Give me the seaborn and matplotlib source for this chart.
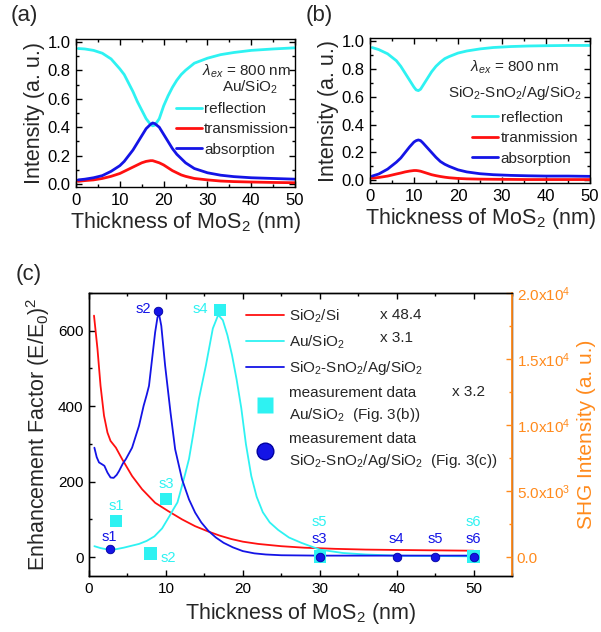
import numpy as np
import pandas as pd
import seaborn as sns
import matplotlib.pyplot as plt
from matplotlib import ticker
from matplotlib.lines import Line2D

sns.set_theme(style="ticks")
plt.rcParams['font.family'] = ['Liberation Sans', 'DejaVu Sans']
plt.rcParams['mathtext.fontset'] = 'custom'
plt.rcParams['mathtext.rm'] = 'Liberation Sans'
plt.rcParams['mathtext.it'] = 'Liberation Sans:italic'
plt.rcParams['mathtext.bf'] = 'Liberation Sans:bold'
plt.rcParams['axes.linewidth'] = 1.0
plt.rcParams['axes.edgecolor'] = 'black'

CYAN = '#2ef2f2'
RED = '#ff1010'
BLUE = '#1414e6'
ORANGE = '#ff8a1c'

# ---- panel (a): Au/SiO2 ----
xa = [0.5, 2, 4, 6, 8, 10, 11, 12, 13, 14, 15, 16, 17, 17.5, 18, 19, 20, 21, 22, 23, 24, 25,
      27, 30, 33, 36, 40, 45, 50]
refl_a = [0.953, 0.95, 0.94, 0.92, 0.88, 0.81, 0.77, 0.71, 0.65, 0.58, 0.52, 0.46, 0.42, 0.41,
          0.415, 0.46, 0.55, 0.62, 0.68, 0.73, 0.77, 0.80, 0.85, 0.885, 0.91, 0.925, 0.94, 0.95, 0.958]
trans_a = [0.02, 0.025, 0.03, 0.04, 0.055, 0.075, 0.09, 0.105, 0.12, 0.135, 0.15, 0.16, 0.165,
           0.165, 0.16, 0.15, 0.135, 0.115, 0.095, 0.08, 0.065, 0.055, 0.04, 0.03, 0.022, 0.018,
           0.015, 0.012, 0.01]
abs_a = [0.03, 0.035, 0.045, 0.06, 0.09, 0.13, 0.16, 0.2, 0.24, 0.29, 0.34, 0.39, 0.42, 0.43,
         0.425, 0.4, 0.35, 0.3, 0.25, 0.21, 0.18, 0.15, 0.11, 0.08, 0.063, 0.053, 0.045, 0.04, 0.035]

# ---- panel (b): SiO2-SnO2/Ag/SiO2 ----
xb = [0.5, 2, 4, 6, 7, 8, 9, 10, 10.5, 11, 11.5, 12, 13, 14, 15, 16, 17, 18, 20, 22, 25, 28,
      32, 36, 40, 45, 50]
refl_b = [0.955, 0.94, 0.91, 0.86, 0.82, 0.77, 0.72, 0.67, 0.65, 0.645, 0.655, 0.68, 0.73, 0.78,
          0.82, 0.85, 0.875, 0.89, 0.915, 0.93, 0.945, 0.955, 0.962, 0.966, 0.968, 0.97, 0.97]
trans_b = [0.015, 0.02, 0.03, 0.045, 0.052, 0.06, 0.066, 0.07, 0.07, 0.068, 0.065, 0.06, 0.05,
           0.04, 0.033, 0.027, 0.022, 0.018, 0.013, 0.01, 0.008, 0.007, 0.006, 0.005, 0.005,
           0.005, 0.005]
abs_b = [0.03, 0.045, 0.08, 0.13, 0.16, 0.2, 0.24, 0.275, 0.285, 0.29, 0.285, 0.27, 0.235, 0.2,
         0.165, 0.135, 0.115, 0.1, 0.075, 0.06, 0.047, 0.04, 0.035, 0.032, 0.03, 0.03, 0.028]

# ---- panel (c): enhancement factor ----
x_si = [0.65, 1.1, 1.5, 1.95, 2.4, 2.8, 3.5, 4.3, 5.6, 6.9, 8.6, 10.3, 12.1, 13.8, 15.5, 17,
        18.5, 20, 22, 25, 28, 32, 36, 40, 45, 50]
ef_si = [640, 552, 454, 375, 330, 308, 290, 260, 215, 180, 144, 122, 100, 82, 68, 57, 48, 41,
         35, 29, 25, 22, 20, 19, 18, 17]

x_au = [0.7, 1.5, 2.5, 3.5, 4.5, 5.5, 6.5, 7.5, 8.5, 9.5, 10.5, 11.0, 11.5, 12.0, 12.5, 13.0,
        13.5, 14.3, 15.2, 16.1, 16.8, 17.4, 18.0, 18.6, 19.2, 19.8, 20.4, 21.1, 21.8, 22.6, 23.5,
        24.6, 26, 27.6, 30, 33, 36, 40, 45, 50]
ef_au = [29, 24, 20, 21, 25, 30, 35, 43, 55, 76, 110, 128, 145, 182, 220, 260, 320, 420, 508,
         606, 642, 628, 588, 535, 470, 395, 300, 215, 160, 119, 92, 72, 52, 38, 20, 11, 7, 4, 3, 2]

x_ag = [0.7, 1.0, 1.3, 1.7, 2.0, 2.4, 2.8, 3.2, 3.6, 3.9, 4.4, 4.8, 5.6, 6.5, 7.1, 7.5, 7.8,
        8.2, 8.6, 8.9, 9.1, 9.4, 9.9, 10.6, 11.2, 12.1, 13.0, 13.8, 14.6, 15.5, 16.5, 17.5, 18.7,
        20, 21.5, 23, 25, 30, 35, 40, 45, 50]
ef_ag = [290, 265, 251, 246, 242, 224, 211, 210, 218, 228, 248, 260, 290, 348, 401, 430, 454,
         525, 596, 635, 645, 613, 507, 383, 286, 206, 153, 118, 92, 70, 52, 38, 26, 16, 10, 7, 5,
         4, 4, 4, 4, 4]

# measurement data (SHG intensity, right axis)
x_meas_au = [3.5, 8.0, 10.0, 17.0, 30.0, 50.0]
shg_meas_au = [2750, 260, 4400, 18700, 40, 40]
lab_meas_au = ['s1', 's2', 's3', 's4', 's5', 's6']

x_meas_ag = [2.7, 9.0, 30.0, 40.0, 45.0, 50.0]
shg_meas_ag = [590, 18650, 20, 20, 20, 20]
lab_meas_ag = ['s1', 's2', 's3', 's4', 's5', 's6']

fig = plt.figure(figsize=(6.01, 6.32), dpi=100)
ax_a = fig.add_axes([0.1265, 0.7041, 0.3645, 0.2342])
ax_b = fig.add_axes([0.6156, 0.7104, 0.366, 0.2287])
ax_c = fig.add_axes([0.1481, 0.0886, 0.7038, 0.4478])


def style_ticks(ax, size):
    ax.tick_params(which='both', direction='in', top=True, right=True, labelsize=size,
                   colors='black', pad=4)
    ax.tick_params(which='major', length=4, width=1)
    ax.tick_params(which='minor', length=2.5, width=1)


def rta_panel(ax, x, refl, trans, absorp, trans_name):
    sns.lineplot(x=x, y=refl, ax=ax, color=CYAN, lw=2.0, label='reflection')
    sns.lineplot(x=x, y=trans, ax=ax, color=RED, lw=2.0, label=trans_name)
    sns.lineplot(x=x, y=absorp, ax=ax, color=BLUE, lw=2.0, label='absorption')
    ax.set_xlim(0, 50)
    ax.set_ylim(-0.02, 1.02)
    ax.xaxis.set_major_locator(ticker.MultipleLocator(10))
    ax.xaxis.set_minor_locator(ticker.MultipleLocator(5))
    ax.yaxis.set_major_locator(ticker.MultipleLocator(0.2))
    ax.yaxis.set_minor_locator(ticker.MultipleLocator(0.1))
    ax.yaxis.set_major_formatter(ticker.FormatStrFormatter('%.1f'))
    style_ticks(ax, 12)
    ax.set_xlabel('Thickness of MoS$_2$ (nm)', fontsize=15.5, labelpad=2)
    ax.set_ylabel('Intensity (a. u.)', fontsize=15.5, labelpad=2)


rta_panel(ax_a, xa, refl_a, trans_a, abs_a, 'transmission')
ax_a.legend(loc='upper left', bbox_to_anchor=(0.455, 0.575), frameon=False, fontsize=11,
            handlelength=1.7, handletextpad=0.15, labelspacing=0.42, borderpad=0,
            borderaxespad=0)
ax_a.text(0.776, 0.784, r'$\lambda_{ex}$ = 800 nm', transform=ax_a.transAxes, fontsize=11,
          ha='center', va='center')
ax_a.text(0.795, 0.672, 'Au/SiO$_2$', transform=ax_a.transAxes, fontsize=11,
          ha='center', va='center')

rta_panel(ax_b, xb, refl_b, trans_b, abs_b, 'tranmission')
ax_b.legend(loc='upper left', bbox_to_anchor=(0.465, 0.50), frameon=False, fontsize=11,
            handlelength=1.7, handletextpad=0.15, labelspacing=0.42, borderpad=0,
            borderaxespad=0)
ax_b.text(0.659, 0.80, r'$\lambda_{ex}$ = 800 nm', transform=ax_b.transAxes, fontsize=11,
          ha='center', va='center')
ax_b.text(0.659, 0.625, 'SiO$_2$-SnO$_2$/Ag/SiO$_2$', transform=ax_b.transAxes, fontsize=11,
          ha='center', va='center')

# ---- panel (c) ----
sns.lineplot(x=x_si, y=ef_si, ax=ax_c, color=RED, lw=1.3)
sns.lineplot(x=x_au, y=ef_au, ax=ax_c, color=CYAN, lw=1.3)
sns.lineplot(x=x_ag, y=ef_ag, ax=ax_c, color=BLUE, lw=1.3)
ax_c.set_xlim(0, 55)
ax_c.set_ylim(-50, 700)
ax_c.xaxis.set_major_locator(ticker.MultipleLocator(10))
ax_c.xaxis.set_minor_locator(ticker.MultipleLocator(5))
ax_c.yaxis.set_major_locator(ticker.MultipleLocator(200))
ax_c.yaxis.set_minor_locator(ticker.MultipleLocator(100))
style_ticks(ax_c, 11)
ax_c.tick_params(right=False, which='both')
ax_c.set_xlabel('Thickness of MoS$_2$ (nm)', fontsize=15.5, labelpad=4)
ax_c.set_ylabel('Enhancement Factor (E/E$_0$)$^2$', fontsize=15.5, labelpad=4)

ax2 = ax_c.twinx()
ax2.set_ylim(-50 * 20000 / 700, 20000)
sns.scatterplot(x=x_meas_au, y=shg_meas_au, ax=ax2, marker='s', s=80, color=CYAN,
                edgecolor='none', zorder=3)
sns.scatterplot(x=x_meas_ag, y=shg_meas_ag, ax=ax2, marker='o', s=38, color=BLUE,
                edgecolor='#0000a0', linewidth=0.6, zorder=4)
ax2.yaxis.set_major_locator(ticker.MultipleLocator(5000))
ax2.yaxis.set_minor_locator(ticker.MultipleLocator(2500))


def shg_fmt(v, pos):
    if abs(v) < 1e-9:
        return '0.0'
    e = int(np.floor(np.log10(abs(v))))
    return '%.1fx10$^{%d}$' % (v / 10 ** e, e)


ax2.yaxis.set_major_formatter(ticker.FuncFormatter(shg_fmt))
ax2.tick_params(axis='y', which='both', direction='in', colors=ORANGE, labelsize=11,
                labelcolor=ORANGE)
ax2.tick_params(axis='y', which='major', length=4, width=1)
ax2.tick_params(axis='y', which='minor', length=2.5, width=1)
ax2.spines['right'].set_color(ORANGE)
ax2.spines['right'].set_linewidth(1.3)
ax2.set_ylabel('SHG Intensity (a. u.)', fontsize=15, color=ORANGE, labelpad=5)

# sample labels
au_offsets = {'s1': (0, 11), 's2': (13, -3), 's3': (0, 11), 's4': (-14, 1), 's5': (0, 25),
              's6': (0, 25)}
for xv, yv, lab in zip(x_meas_au, shg_meas_au, lab_meas_au):
    ax2.annotate(lab, (xv, yv), xytext=au_offsets[lab], textcoords='offset points',
                 ha='center', va='center', fontsize=10.5, color=CYAN)
ag_offsets = {'s1': (0, 9), 's2': (-11, 1), 's3': (0, 13), 's4': (0, 13), 's5': (0, 13),
              's6': (0, 13)}
for xv, yv, lab in zip(x_meas_ag, shg_meas_ag, lab_meas_ag):
    ax2.annotate(lab, (xv, yv), xytext=ag_offsets[lab], textcoords='offset points',
                 ha='center', va='center', fontsize=10.5, color=BLUE)

handles = [
    Line2D([], [], color=RED, lw=1.3),
    Line2D([], [], color=CYAN, lw=1.3),
    Line2D([], [], color=BLUE, lw=1.3),
    Line2D([], [], ls='none', marker='s', markersize=11, color=CYAN, markeredgecolor='none'),
    Line2D([], [], ls='none', marker='o', markersize=12, color=BLUE,
           markeredgecolor='#0000a0'),
]
labels = ['SiO$_2$/Si', 'Au/SiO$_2$', 'SiO$_2$-SnO$_2$/Ag/SiO$_2$',
          'measurement data\nAu/SiO$_2$  (Fig. 3(b))',
          'measurement data\nSiO$_2$-SnO$_2$/Ag/SiO$_2$  (Fig. 3(c))']
leg = ax2.legend(handles, labels, loc='upper left', bbox_to_anchor=(0.37, 0.948),
                 frameon=False, fontsize=11, handlelength=2.5, handletextpad=0.35,
                 labelspacing=0.55, borderpad=0, borderaxespad=0)
for t in leg.get_texts():
    t.set_linespacing(1.45)
ax2.text(0.688, 0.922, 'x 48.4', transform=ax2.transAxes, fontsize=11, va='center')
ax2.text(0.688, 0.841, 'x 3.1', transform=ax2.transAxes, fontsize=11, va='center')
ax2.text(0.858, 0.650, 'x 3.2', transform=ax2.transAxes, fontsize=11, va='center')

fig.text(0.018, 0.975, '(a)', fontsize=16, va='center')
fig.text(0.508, 0.975, '(b)', fontsize=16, va='center')
fig.text(0.026, 0.565, '(c)', fontsize=16, va='center')

fig.savefig('out.png', dpi=100)
